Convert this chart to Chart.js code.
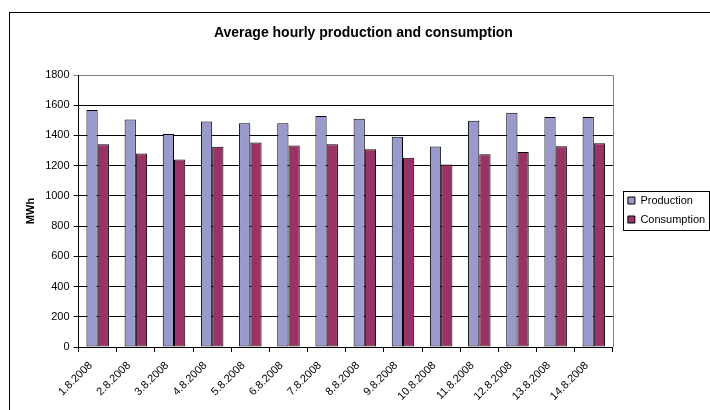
<!DOCTYPE html>
<html>
<head>
<meta charset="utf-8">
<script src="https://cdn.jsdelivr.net/npm/chart.js@4"></script>
<style>
html,body{margin:0;padding:0;background:#fff;overflow:hidden;width:710px;height:410px;}
canvas{display:block;}
</style>
</head>
<body>
<canvas id="c" width="730" height="420" style="width:730px;height:420px"></canvas>
<script>
const categories = ["1.8.2008","2.8.2008","3.8.2008","4.8.2008","5.8.2008","6.8.2008","7.8.2008","8.8.2008","9.8.2008","10.8.2008","11.8.2008","12.8.2008","13.8.2008","14.8.2008"];
const production = [1568,1506,1409,1492,1480,1480,1528,1511,1391,1327,1497,1550,1522,1522];
const consumption = [1341,1281,1241,1325,1354,1334,1341,1308,1252,1208,1275,1290,1328,1348];
const seriesNames = ["Production","Consumption"];
const chartTitle = "Average hourly production and consumption";
const yTitle = "MWh";

const FONT = "'Liberation Sans', Arial, sans-serif";

const framePlugin = {
  id: 'frame',
  beforeDraw(chart) {
    const ctx = chart.ctx;
    ctx.save();
    ctx.fillStyle = '#fff';
    ctx.fillRect(0, 0, chart.width, chart.height);
    ctx.strokeStyle = '#000';
    ctx.lineWidth = 1;
    ctx.strokeRect(9.5, 12.5, chart.width + 20, chart.height + 20);
    ctx.restore();
  },
  beforeDatasetsDraw(chart) {
    const a = chart.chartArea, ctx = chart.ctx;
    ctx.save();
    ctx.strokeStyle = '#808080';
    ctx.lineWidth = 1;
    ctx.beginPath();
    const r = Math.round(a.right) + 0.5, t = Math.round(a.top) + 0.5;
    ctx.moveTo(Math.round(a.left), t);
    ctx.lineTo(r, t);
    ctx.lineTo(r, Math.round(a.bottom));
    ctx.stroke();
    ctx.restore();
  },
  afterDraw(chart) {
    const lg = chart.legend;
    if (!lg || !lg.legendHitBoxes || !lg.legendHitBoxes.length) return;
    const hb = lg.legendHitBoxes;
    let l = Infinity, t = Infinity, b = -Infinity;
    hb.forEach(h => { l = Math.min(l, h.left); t = Math.min(t, h.top); b = Math.max(b, h.top + h.height); });
    const ctx = chart.ctx;
    ctx.save();
    ctx.strokeStyle = '#000';
    ctx.lineWidth = 1;
    const x0 = Math.round(l - 5) + 0.5, y0 = Math.round(t - 4) + 0.5;
    const x1 = Math.round(l + 81) + 0.5, y1 = Math.round(b + 5) + 0.5;
    ctx.strokeRect(x0, y0, x1 - x0, y1 - y0);
    ctx.restore();
  }
};

new Chart(document.getElementById('c'), {
  type: 'bar',
  data: {
    labels: categories,
    datasets: [
      { label: seriesNames[0], data: production, backgroundColor: '#9999CC', borderColor: '#000', borderWidth: 1, borderSkipped: false },
      { label: seriesNames[1], data: consumption, backgroundColor: '#993366', borderColor: '#000', borderWidth: 1, borderSkipped: false }
    ]
  },
  options: {
    responsive: false,
    animation: false,
    devicePixelRatio: 1,
    layout: { padding: { left: 11.6, right: 14.8, top: 0, bottom: 0 } },
    datasets: { bar: { categoryPercentage: 0.59, barPercentage: 1 } },
    plugins: {
      title: {
        display: true, text: chartTitle, color: '#000',
        font: { family: FONT, size: 14, weight: 'bold' },
        padding: { top: 25.1, bottom: 33.1 }
      },
      legend: {
        position: 'right',
        labels: {
          color: '#000', boxWidth: 7, boxHeight: 7, padding: 8,
          font: { family: FONT, size: 11 }
        }
      },
      tooltip: { enabled: false }
    },
    scales: {
      x: {
        offset: true,
        grid: { display: true, drawOnChartArea: false, offset: true, tickLength: 5, color: '#000' },
        border: { display: true, color: '#000' },
        ticks: { color: '#000', font: { family: FONT, size: 11 }, minRotation: 45, maxRotation: 45, autoSkip: false, padding: 7, labelOffset: -7 },
        afterFit(s) { s.height = 73; }
      },
      y: {
        min: 0, max: 1800,
        ticks: { stepSize: 200, color: '#000', font: { family: FONT, size: 11 }, padding: 4, callback: (v) => String(v) },
        grid: { color: (c) => (c.tick && c.tick.value === 1800 ? '#808080' : '#000'), tickLength: 5 },
        border: { display: true, color: '#000' },
        title: { display: true, text: yTitle, color: '#000', font: { family: FONT, size: 11, weight: 'bold' }, padding: { top: 13, bottom: 0 } },
        afterFit(s) { s.width = 67; }
      },
      gap: {
        position: 'right', display: true, min: 0, max: 1,
        grid: { display: false }, ticks: { display: false }, border: { display: false },
        afterFit(s) { s.width = 7; }
      }
    }
  },
  plugins: [framePlugin]
});
</script>
</body>
</html>
